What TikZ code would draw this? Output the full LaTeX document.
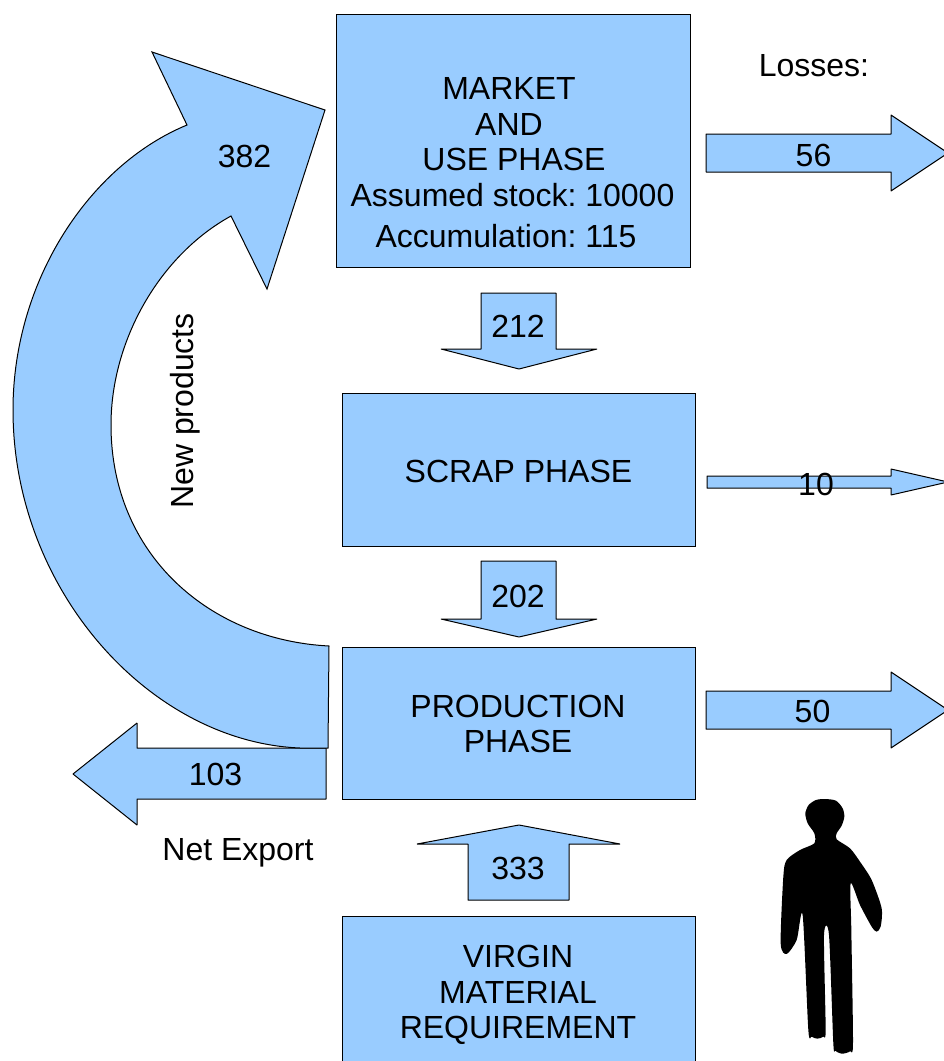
\documentclass[tikz,border=0pt]{standalone}
\usepackage{fontspec}
\setmainfont{Liberation Sans}
\tikzset{
  panel/.style={draw=black,fill=flowblue,line width=1pt,rectangle,inner sep=0pt,align=center,font=\bodyfont},
  flow/.style={draw=black,fill=flowblue,line width=1pt,line join=bevel},
  lab/.style={inner sep=0pt,align=center,font=\bodyfont},
}
\newcommand{\bodyfont}{\frenchspacing\fontsize{32}{35.5}\selectfont}
\definecolor{flowblue}{HTML}{99CCFF}
\begin{document}
\begin{tikzpicture}[x=1pt,y=-1pt]
\path[use as bounding box] (0,0) rectangle (944,1061);
\clip (0,0) rectangle (944,1061);
% boxes
\node[panel,minimum width=354pt,minimum height=253pt,anchor=north west] (market) at (336,14) {};
\node[panel,minimum width=353pt,minimum height=153pt,anchor=north west] (scrap) at (342,393) {};
\node[panel,minimum width=353pt,minimum height=152pt,anchor=north west] (production) at (342,647) {};
\node[panel,minimum width=353pt,minimum height=155pt,anchor=north west] (virgin) at (342,916) {};
\node[lab] (t1) at (509,88) {MARKET};
\node[lab] (t2) at (509,124) {AND};
\node[lab] (t3) at (514,159) {USE PHASE};
\node[lab] (stock) at (512.5,195) {Assumed stock: 10000};
\node[lab] (accum) at (506,236) {Accumulation: 115};
\node[lab] (scraptext) at (518.5,471) {SCRAP PHASE};
\node[lab] (prodtext) at (518,724) {PRODUCTION\\PHASE};
\node[lab] (virgintext) at (518,995) {VIRGIN\\MATERIAL\\REQUIREMENT};
% block arrows
\draw[flow] (706,134)--(891,134)--(891,115)--(948,153)--(891,191)--(891,172)--(706,172)--cycle;
\draw[flow] (481,293)--(556,293)--(556,349)--(597,349)--(519,369)--(441,349)--(481,349)--cycle;
\draw[flow] (707,476)--(891,476)--(891,469)--(948,482)--(891,495)--(891,488)--(707,488)--cycle;
\draw[flow] (481,561)--(556,561)--(556,619)--(597,619)--(519,637)--(441,619)--(481,619)--cycle;
\draw[flow] (706,691)--(891,691)--(891,672)--(948,710)--(891,748)--(891,729)--(706,729)--cycle;
\draw[flow] (326,748)--(137,748)--(137,723)--(73,774)--(137,825)--(137,799)--(326,799)--cycle;
\draw[flow] (468,900)--(468,844)--(417,844)--(519,825)--(620,844)--(569,844)--(569,900)--cycle;
% curved arrow
\draw[flow,line join=miter] (329,646)
  .. controls (210,640) and (111,555) .. (111,425)
  .. controls (111,340) and (160,255) .. (231,216)
  -- (267,289) -- (325,110) -- (152,52) -- (187,125)
  .. controls (90,165) and (13,280) .. (13,410)
  .. controls (13,590) and (150,742) .. (300,748)
  -- (328,748) -- cycle;
% person
\begin{scope}[shift={(760,780)},x=0.3333pt,y=-0.3333pt]
\fill[black] plot[smooth cycle,tension=0.45] coordinates {
(195,57)(228,62)(248,85)(253,110)(245,137)(230,160)(230,178)(270,205)(300,245)(335,300)(365,385)(362,440)(350,455)(335,440)(300,375)(272,310)(274,450)(279,790)(270,814)(246,821)(226,812)(220,790)(207,465)(192,465)(197,750)(190,770)(172,776)(155,770)(145,750)(128,405)(110,480)(80,522)(62,490)(70,290)(80,240)(120,210)(163,190)(163,160)(143,130)(136,100)(146,75)(168,60)};
\end{scope}
% labels
\node[lab] (l382) at (244.5,156) {382};
\node[lab] (l56) at (813.5,155) {56};
\node[lab] (l212) at (518,326) {212};
\node[lab] (l10) at (816,484) {10};
\node[lab] (l202) at (518,596) {202};
\node[lab] (l50) at (812.5,711) {50};
\node[lab] (l103) at (215.5,774) {103};
\node[lab] (l333) at (518,868) {333};
\node[lab] (losses) at (814,66) {Losses:};
\node[lab] (netexport) at (238,853) {Net Export};
\node[lab,rotate=90] (newprod) at (185,411) {New products};
\end{tikzpicture}
\end{document}
